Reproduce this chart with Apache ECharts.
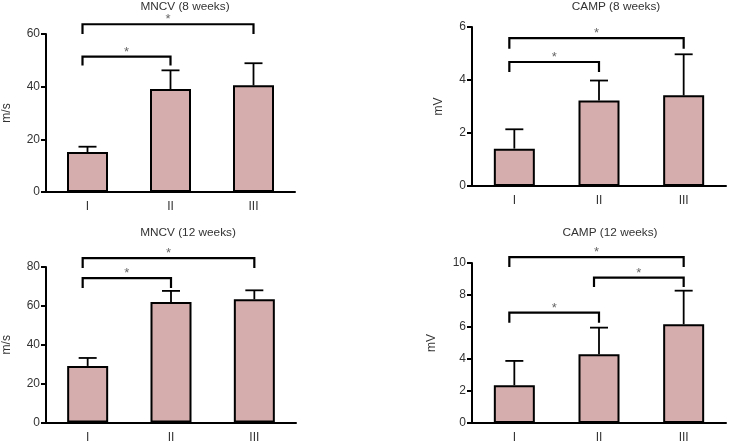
<!DOCTYPE html>
<html>
<head>
    <meta charset="utf-8">
    <title>MNCV / CAMP</title>
    <style>
        html, body { margin: 0; padding: 0; background: #fff; }
        #main { width: 730px; height: 444px; }
    </style>
</head>
<body>
    <div id="main"></div>
    <script src="https://cdn.jsdelivr.net/npm/echarts@6/dist/echarts.min.js"></script>
    <script>
        // groups
        var categories = ['I', 'II', 'III'];

        // means and SD (upper error only)
        var mncv8 = [15.2, 39.1, 40.5];
        var mncv8Sd = [2.0, 7.1, 8.4];
        var camp8 = [1.41, 3.23, 3.42];
        var camp8Sd = [0.73, 0.75, 1.55];
        var mncv12 = [29.1, 62.0, 63.4];
        var mncv12Sd = [4.1, 5.7, 4.6];
        var camp12 = [2.36, 4.29, 6.17];
        var camp12Sd = [1.52, 1.67, 2.10];

        // significance brackets: [from group, to group, bracket level, leg end]
        var mncv8Sig = [[0, 1, 51.4, 48], [0, 2, 63.7, 60]];
        var camp8Sig = [[0, 1, 4.68, 4.3], [0, 2, 5.58, 5.18]];
        var mncv12Sig = [[0, 1, 74.3, 69.2], [0, 2, 84.6, 79.5]];
        var camp12Sig = [[0, 1, 6.9, 6.27], [1, 2, 9.08, 8.5], [0, 2, 10.37, 9.75]];

        // y-axis ticks: min, max, step
        var mncv8Ticks = [0, 60, 20];
        var camp8Ticks = [0, 6, 2];
        var mncv12Ticks = [0, 80, 20];
        var camp12Ticks = [0, 10, 2];

        var barColor = '#d6adad';
        var textColor = '#333';
        var font = 'Liberation Sans, Arial';

        var chart = echarts.init(document.getElementById('main'));

        var panels = [
            { title: 'MNCV (8 weeks)', unit: 'm/s', data: mncv8, sd: mncv8Sd, sig: mncv8Sig, ticks: mncv8Ticks,
              grid: { left: 41, top: 34, width: 254, height: 158 }, titleX: 180, titleY: -4, nameGap: 33 },
            { title: 'CAMP (8 weeks)', unit: 'mV', data: camp8, sd: camp8Sd, sig: camp8Sig, ticks: camp8Ticks,
              grid: { left: 472, top: 27, width: 254, height: 159 }, titleX: 611, titleY: -4, nameGap: 27 },
            { title: 'MNCV (12 weeks)', unit: 'm/s', data: mncv12, sd: mncv12Sd, sig: mncv12Sig, ticks: mncv12Ticks,
              grid: { left: 42, top: 267, width: 254, height: 155.5 }, titleX: 183, titleY: 222, nameGap: 33 },
            { title: 'CAMP (12 weeks)', unit: 'mV', data: camp12, sd: camp12Sd, sig: camp12Sig, ticks: camp12Ticks,
              grid: { left: 472, top: 263, width: 254, height: 160 }, titleX: 605, titleY: 222, nameGap: 34 }
        ];

        var grids = [], xAxes = [], yAxes = [], series = [], titles = [];

        panels.forEach(function (p, i) {
            grids.push(p.grid);
            titles.push({
                text: p.title,
                left: p.titleX,
                top: p.titleY,
                textAlign: 'center',
                textStyle: { fontFamily: font, fontSize: 11.8, fontWeight: 'normal', color: textColor }
            });
            xAxes.push({
                type: 'category',
                gridIndex: i,
                data: categories,
                axisLine: { lineStyle: { color: '#000', width: 2 } },
                axisTick: { alignWithLabel: true, length: 6, lineStyle: { color: '#000', width: 2 } },
                axisLabel: { color: textColor, fontSize: 12, fontFamily: font, margin: 9 }
            });
            yAxes.push({
                type: 'value',
                gridIndex: i,
                min: p.ticks[0],
                max: p.ticks[1],
                interval: p.ticks[2],
                name: p.unit,
                nameLocation: 'middle',
                nameRotate: 90,
                nameGap: p.nameGap,
                nameTextStyle: { color: textColor, fontSize: 12, fontFamily: font },
                axisLine: { show: true, lineStyle: { color: '#000', width: 2 } },
                axisTick: { show: true, length: 5, lineStyle: { color: '#000', width: 2 } },
                axisLabel: { color: textColor, fontSize: 12, fontFamily: font, margin: 6 },
                splitLine: { show: false }
            });
            series.push({
                type: 'bar',
                xAxisIndex: i,
                yAxisIndex: i,
                data: p.data,
                barWidth: 41,
                itemStyle: { color: barColor, borderColor: '#000', borderWidth: 2 },
                silent: true
            });
            // upper error bars
            series.push({
                type: 'custom',
                xAxisIndex: i,
                yAxisIndex: i,
                data: p.data.map(function (v, k) { return [k, v, v + p.sd[k]]; }),
                z: 3,
                silent: true,
                renderItem: function (params, api) {
                    var base = api.coord([api.value(0), api.value(1)]);
                    var top = api.coord([api.value(0), api.value(2)]);
                    var st = { stroke: '#000', lineWidth: 1.8 };
                    return {
                        type: 'group',
                        children: [
                            { type: 'line', shape: { x1: base[0], y1: base[1], x2: top[0], y2: top[1] }, style: st },
                            { type: 'line', shape: { x1: top[0] - 9, y1: top[1], x2: top[0] + 9, y2: top[1] }, style: st }
                        ]
                    };
                }
            });
            // significance brackets
            series.push({
                type: 'custom',
                xAxisIndex: i,
                yAxisIndex: i,
                data: p.sig,
                clip: false,
                z: 4,
                silent: true,
                renderItem: function (params, api) {
                    var a = api.coord([api.value(0), api.value(2)]);
                    var b = api.coord([api.value(1), api.value(2)]);
                    var legA = api.coord([api.value(0), api.value(3)]);
                    var legB = api.coord([api.value(1), api.value(3)]);
                    var st = { stroke: '#000', lineWidth: 2.2, fill: null };
                    return {
                        type: 'group',
                        children: [
                            { type: 'polyline', shape: { points: [[legA[0] - 5, legA[1]], [a[0] - 5, a[1]], [b[0], b[1]], [legB[0], legB[1]]] }, style: st },
                            { type: 'text', style: { text: '*', x: (a[0] - 5 + b[0]) / 2, y: a[1] + 2, align: 'center', verticalAlign: 'bottom',
                                fill: '#666', fontSize: 13, fontFamily: font } }
                        ]
                    };
                }
            });
        });

        chart.setOption({
            animation: false,
            backgroundColor: '#fff',
            title: titles,
            grid: grids,
            xAxis: xAxes,
            yAxis: yAxes,
            series: series
        });

        window.addEventListener('resize', function () {
            chart.resize();
        });
    </script>
</body>
</html>
